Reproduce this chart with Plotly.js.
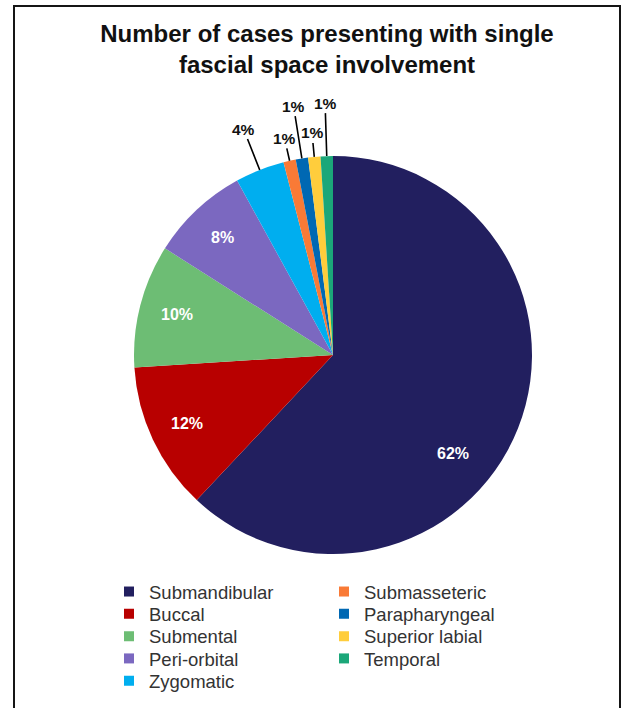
<!DOCTYPE html>
<html><head><meta charset="utf-8">
<script src="https://cdn.plot.ly/plotly-3.0.1.min.js"></script>
<style>
html,body{margin:0;padding:0;background:#fff;overflow:hidden;}
#wrap{position:relative;width:624px;height:708px;}
#chart{position:absolute;left:0;top:0;width:624px;height:708px;}
#frame{position:absolute;left:13px;top:5px;width:604px;height:740px;border:2px solid #151515;border-bottom:none;pointer-events:none;}
</style></head><body>
<div id="wrap"><div id="chart"></div><div id="frame"></div></div>
<script>
// ---- data ----
const categories = ['Submandibular','Buccal','Submental','Peri-orbital','Zygomatic','Submasseteric','Parapharyngeal','Superior labial','Temporal'];
const percentages = [62, 12, 10, 8, 4, 1, 1, 1, 1];
const colors = ['#221f5f','#b80000','#6dbd74','#7b68c0','#00aeef','#f97a36','#0068b3','#ffcd3c','#1ba779'];
const chartTitle = 'Number of cases presenting with single<br>fascial space involvement';

// ---- style / layout config ----
const W = 624, H = 708;
const FONT = 'Liberation Sans, Arial, Helvetica, sans-serif';
const domX = [134/W, 532/W];
const domY = [1 - 554/H, 1 - 156/H];
const leaderLen = {'Zygomatic':44, 'Submasseteric':23, 'Parapharyngeal':53, 'Superior labial':24, 'Temporal':53};
const insideRadiusFrac = 0.81;
const insideTweak = {'Submandibular': {dAngle: 17.7, rf: 0.78}};
const legendRows = 5, legendColX = [109, 324], legendRow0 = 592, legendRowGap = 22.3;

const pie = {
  type:'pie', labels:categories, values:percentages, sort:false, direction:'clockwise', rotation:0,
  marker:{colors:colors, line:{width:0}},
  textinfo:'none',
  showlegend:false, hoverinfo:'skip', domain:{x:domX, y:domY}
};

const layoutLegends = {};
const legendTraces = categories.map((c,i) => {
  const key = i === 0 ? 'legend' : 'legend' + (i+1);
  const col = Math.floor(i / legendRows), row = i % legendRows;
  layoutLegends[key] = {
    x: legendColX[col]/W, xanchor:'left',
    y: 1 - (legendRow0 + row*legendRowGap)/H, yanchor:'middle',
    orientation:'v', font:{size:18.5, color:'#333', family:FONT},
    bgcolor:'rgba(0,0,0,0)', itemclick:false, itemdoubleclick:false
  };
  return {
    type:'scatter', x:[null], y:[null], mode:'markers', name:c,
    marker:{symbol:'square', size:10, color:colors[i]},
    legend:key, hoverinfo:'skip'
  };
});

// percentage labels computed from the data
const total = percentages.reduce((a,b)=>a+b,0);
const cxPx = (domX[0]+domX[1])/2*W, cyPx = (1-(domY[0]+domY[1])/2)*H;
const R = Math.min((domX[1]-domX[0])*W, (domY[1]-domY[0])*H)/2;
const annotations = [];
let cum = 0;
percentages.forEach((v,i) => {
  let mid = (cum + v/2)/total*2*Math.PI;
  cum += v;
  const txt = v + '%';
  if (v >= 5) {
    const tw = insideTweak[categories[i]] || {dAngle:0, rf:insideRadiusFrac};
    const a = mid + tw.dAngle*Math.PI/180;
    const px = cxPx + tw.rf*R*Math.sin(a), py = cyPx - tw.rf*R*Math.cos(a);
    annotations.push({x:px/W, y:1-py/H, xref:'paper', yref:'paper', xanchor:'center', yanchor:'middle',
      text:txt, showarrow:false,
      font:{size:16, color:'#fff', family:FONT, weight:'bold'}});
    return;
  }
  const px = cxPx + R*Math.sin(mid), py = cyPx - R*Math.cos(mid);
  const L = leaderLen[categories[i]];
  annotations.push({
    x: px/W, y: 1 - py/H, xref:'paper', yref:'paper',
    text: txt, showarrow:true, arrowhead:0, arrowwidth:1.6, arrowcolor:'#000',
    ax: L*Math.sin(mid), ay: -L*Math.cos(mid), standoff:0,
    font:{size:15.5, color:'#111', family:FONT, weight:'bold'}
  });
});

const layout = Object.assign({
  width:W, height:H, margin:{l:0,r:0,t:0,b:0, autoexpand:false},
  paper_bgcolor:'#fff', plot_bgcolor:'#fff',
  title:{text:chartTitle, font:{size:24, color:'#111', family:FONT, weight:'bold'},
         x:327/W, xanchor:'center', xref:'container', y:1-42/H, yref:'container', yanchor:'top'},
  xaxis:{visible:false}, yaxis:{visible:false},
  annotations: annotations,
  showlegend:true
}, layoutLegends);

Plotly.newPlot('chart', [pie].concat(legendTraces), layout, {displayModeBar:false, staticPlot:true});
</script>
</body></html>
